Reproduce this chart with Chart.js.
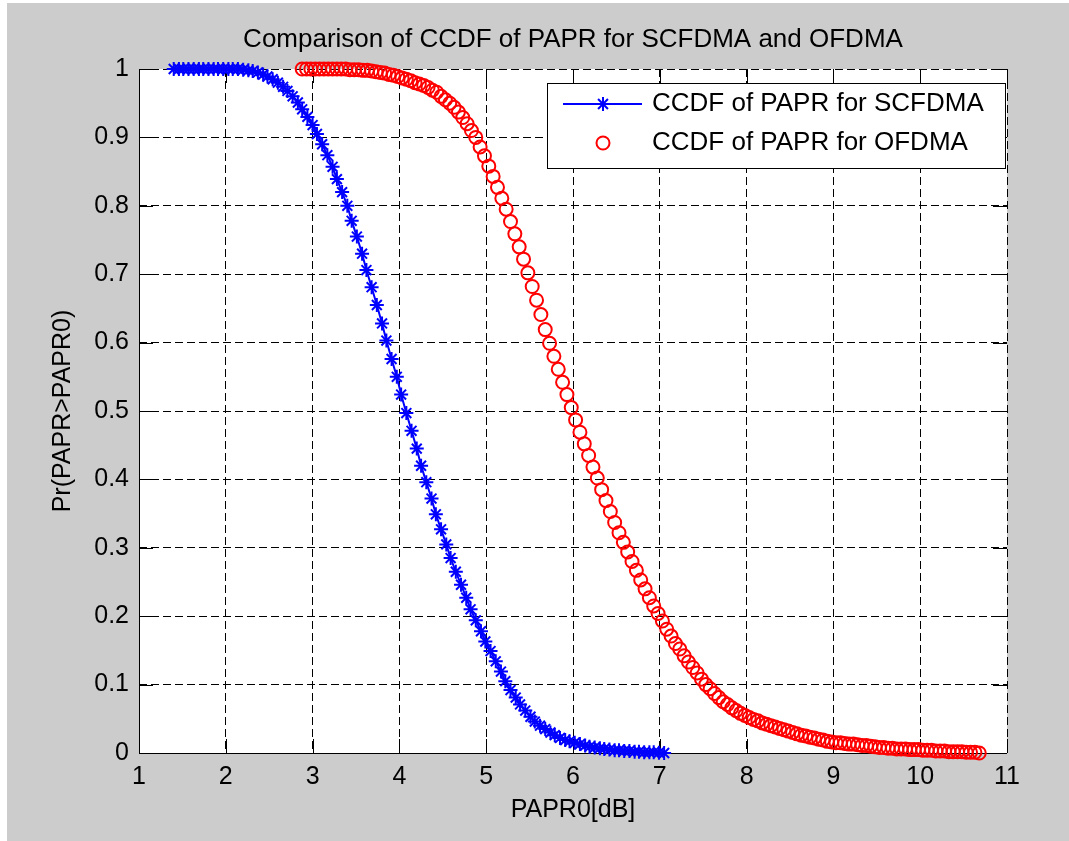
<!DOCTYPE html>
<html>
<head>
<meta charset="utf-8">
<title>CCDF of PAPR</title>
<script src="https://cdn.jsdelivr.net/npm/chart.js@4.4.1/dist/chart.umd.min.js"></script>
<style>
  html, body { margin: 0; padding: 0; background: #cccccc; }
  #wrap { width: 1069px; height: 841px; position: relative; }
</style>
</head>
<body>
<div id="wrap"><canvas id="paprChart"></canvas></div>
<script>
// PAPR0 values (dB) and CCDF
const scfdmaX = [1.40, 1.46, 1.51, 1.57, 1.63, 1.69, 1.74, 1.80, 1.86, 1.91,
    1.97, 2.03, 2.08, 2.14, 2.20, 2.26, 2.31, 2.37, 2.43, 2.48,
    2.54, 2.60, 2.66, 2.71, 2.77, 2.83, 2.88, 2.94, 3.00, 3.05,
    3.11, 3.17, 3.23, 3.28, 3.34, 3.40, 3.45, 3.51, 3.57, 3.62,
    3.68, 3.74, 3.80, 3.85, 3.91, 3.97, 4.02, 4.08, 4.14, 4.20,
    4.25, 4.31, 4.37, 4.42, 4.48, 4.54, 4.59, 4.65, 4.71, 4.77,
    4.82, 4.88, 4.94, 4.99, 5.05, 5.11, 5.17, 5.22, 5.28, 5.34,
    5.39, 5.45, 5.51, 5.56, 5.62, 5.68, 5.74, 5.79, 5.85, 5.91,
    5.96, 6.02, 6.08, 6.14, 6.19, 6.25, 6.31, 6.36, 6.42, 6.48,
    6.53, 6.59, 6.65, 6.71, 6.76, 6.82, 6.88, 6.93, 6.99, 7.05];
const scfdmaCcdf = [1, 1, 1, 1, 1, 1, 1, 1, 1, 1,
    1, 1, 1, 1, 0.999, 0.998, 0.997, 0.995, 0.992, 0.989,
    0.985, 0.980, 0.974, 0.968, 0.960, 0.951, 0.941, 0.930, 0.918, 0.905,
    0.890, 0.874, 0.857, 0.839, 0.820, 0.800, 0.778, 0.755, 0.730, 0.706,
    0.681, 0.655, 0.628, 0.603, 0.576, 0.550, 0.524, 0.497, 0.471, 0.445,
    0.420, 0.396, 0.372, 0.349, 0.327, 0.305, 0.285, 0.265, 0.246, 0.227,
    0.210, 0.194, 0.178, 0.163, 0.149, 0.134, 0.119, 0.105, 0.092, 0.081,
    0.071, 0.062, 0.053, 0.046, 0.040, 0.035, 0.030, 0.026, 0.022, 0.019,
    0.017, 0.015, 0.013, 0.011, 0.009, 0.008, 0.007, 0.006, 0.005, 0.004,
    0.004, 0.003, 0.003, 0.002, 0.002, 0.001, 0.001, 0.001, 0.0005, 0];

const ofdmaX = [2.88, 2.93, 2.98, 3.03, 3.08, 3.13, 3.18, 3.23, 3.28, 3.33,
    3.38, 3.43, 3.48, 3.53, 3.58, 3.63, 3.68, 3.73, 3.78, 3.83,
    3.88, 3.93, 3.98, 4.03, 4.08, 4.13, 4.18, 4.23, 4.28, 4.33,
    4.38, 4.43, 4.48, 4.53, 4.58, 4.63, 4.68, 4.73, 4.78, 4.83,
    4.88, 4.93, 4.98, 5.03, 5.08, 5.13, 5.18, 5.23, 5.28, 5.33,
    5.38, 5.43, 5.48, 5.53, 5.58, 5.63, 5.68, 5.73, 5.78, 5.83,
    5.88, 5.93, 5.98, 6.03, 6.08, 6.13, 6.18, 6.23, 6.28, 6.33,
    6.38, 6.43, 6.48, 6.53, 6.58, 6.63, 6.68, 6.73, 6.78, 6.83,
    6.88, 6.93, 6.98, 7.03, 7.08, 7.13, 7.18, 7.23, 7.28, 7.33,
    7.38, 7.43, 7.48, 7.53, 7.58, 7.63, 7.68, 7.73, 7.78, 7.83,
    7.88, 7.93, 7.98, 8.03, 8.08, 8.13, 8.18, 8.23, 8.28, 8.33,
    8.38, 8.43, 8.48, 8.53, 8.58, 8.63, 8.68, 8.73, 8.78, 8.83,
    8.88, 8.93, 8.98, 9.03, 9.08, 9.13, 9.18, 9.23, 9.28, 9.33,
    9.38, 9.43, 9.48, 9.53, 9.58, 9.63, 9.68, 9.73, 9.78, 9.83,
    9.88, 9.93, 9.98, 10.03, 10.08, 10.13, 10.18, 10.23, 10.28, 10.33,
    10.38, 10.43, 10.48, 10.53, 10.58, 10.63, 10.68];
const ofdmaCcdf = [1, 1, 1, 1, 1, 1, 1, 1, 1, 1,
    1, 0.999, 0.999, 0.999, 0.998, 0.998, 0.997, 0.996, 0.995, 0.994,
    0.992, 0.991, 0.989, 0.987, 0.985, 0.983, 0.980, 0.978, 0.976, 0.973,
    0.969, 0.966, 0.960, 0.955, 0.950, 0.944, 0.937, 0.929, 0.920, 0.910,
    0.900, 0.886, 0.873, 0.858, 0.843, 0.827, 0.811, 0.795, 0.777, 0.759,
    0.740, 0.722, 0.702, 0.682, 0.662, 0.641, 0.619, 0.599, 0.580, 0.561,
    0.542, 0.524, 0.505, 0.487, 0.469, 0.452, 0.435, 0.418, 0.402, 0.385,
    0.369, 0.353, 0.337, 0.322, 0.308, 0.294, 0.280, 0.267, 0.253, 0.240,
    0.227, 0.215, 0.204, 0.193, 0.181, 0.171, 0.160, 0.152, 0.142, 0.133,
    0.125, 0.117, 0.108, 0.100, 0.094, 0.087, 0.081, 0.075, 0.071, 0.066,
    0.062, 0.058, 0.055, 0.052, 0.049, 0.047, 0.044, 0.042, 0.040, 0.038,
    0.036, 0.034, 0.032, 0.030, 0.028, 0.026, 0.025, 0.023, 0.022, 0.020,
    0.019, 0.017, 0.016, 0.015, 0.015, 0.014, 0.013, 0.013, 0.012, 0.011,
    0.011, 0.010, 0.009, 0.008, 0.008, 0.007, 0.007, 0.006, 0.006, 0.006,
    0.005, 0.005, 0.005, 0.004, 0.004, 0.004, 0.003, 0.003, 0.003, 0.002,
    0.002, 0.002, 0.002, 0.001, 0.001, 0.001, 0];

const xTickLabels = ['1', '2', '3', '4', '5', '6', '7', '8', '9', '10', '11'];
const yTickLabels = ['0', '0.1', '0.2', '0.3', '0.4', '0.5', '0.6', '0.7', '0.8', '0.9', '1'];

const seriesNames = ['CCDF of PAPR for SCFDMA', 'CCDF of PAPR for OFDMA'];
const FONT = "'Liberation Sans', Arial, Helvetica, sans-serif";
const TICK_LEN = 14;

function toPoints(xs, ys) {
    return xs.map((x, i) => ({ x: x, y: ys[i] }));
}

function drawStar(ctx, x, y, r) {
    const d = r * Math.SQRT1_2;
    ctx.beginPath();
    ctx.moveTo(x - r, y); ctx.lineTo(x + r, y);
    ctx.moveTo(x, y - r); ctx.lineTo(x, y + r);
    ctx.moveTo(x - d, y - d); ctx.lineTo(x + d, y + d);
    ctx.moveTo(x - d, y + d); ctx.lineTo(x + d, y - d);
    ctx.stroke();
}

// grey figure, white axes background
const figureBg = {
    id: 'figureBg',
    beforeDraw(chart) {
        const { ctx, chartArea: a, width, height } = chart;
        ctx.save();
        ctx.fillStyle = '#cccccc';
        ctx.fillRect(0, 0, width, height);
        ctx.fillStyle = '#ffffff';
        ctx.fillRect(0, 0, 7, height);
        ctx.fillRect(0, 0, width, 3);
        ctx.fillRect(a.left, a.top, a.right - a.left, a.bottom - a.top);
        ctx.restore();
    }
};

// matlab style axes: solid left/bottom lines, ticks pointing inwards on all sides
const matlabAxes = {
    id: 'matlabAxes',
    beforeDatasetsDraw(chart) {
        const { ctx, chartArea: a, scales } = chart;
        ctx.save();
        ctx.strokeStyle = '#000';
        ctx.lineWidth = 1;
        ctx.beginPath();
        ctx.moveTo(a.left + 0.5, a.top);
        ctx.lineTo(a.left + 0.5, a.bottom + 0.5);
        ctx.lineTo(a.right, a.bottom + 0.5);
        scales.x.ticks.forEach(t => {
            const px = Math.round(scales.x.getPixelForValue(t.value)) + 0.5;
            ctx.moveTo(px, a.bottom); ctx.lineTo(px, a.bottom - TICK_LEN);
            ctx.moveTo(px, a.top); ctx.lineTo(px, a.top + TICK_LEN);
        });
        scales.y.ticks.forEach(t => {
            const py = Math.round(scales.y.getPixelForValue(t.value)) + 0.5;
            ctx.moveTo(a.left, py); ctx.lineTo(a.left + TICK_LEN, py);
            ctx.moveTo(a.right, py); ctx.lineTo(a.right - TICK_LEN, py);
        });
        ctx.stroke();
        ctx.restore();
    }
};

// title above the axes plus boxed legend inside the top right corner
const titleAndLegend = {
    id: 'titleAndLegend',
    afterDraw(chart) {
        const { ctx, chartArea: a } = chart;
        ctx.save();
        ctx.fillStyle = '#000';
        ctx.font = '26px ' + FONT;
        ctx.textAlign = 'center';
        ctx.textBaseline = 'middle';
        ctx.fillText('Comparison of CCDF of PAPR for SCFDMA and OFDMA', (a.left + a.right) / 2, 40);

        const bx = a.left + 408, by = a.top + 14, bw = 458, bh = 85;
        ctx.fillStyle = '#fff';
        ctx.fillRect(bx, by, bw, bh);
        ctx.strokeStyle = '#000';
        ctx.lineWidth = 1;
        ctx.strokeRect(bx + 0.5, by + 0.5, bw, bh);

        const row1 = by + 21, row2 = by + 60, mx = bx + 56;
        ctx.strokeStyle = '#0000ff';
        ctx.lineWidth = 2;
        ctx.beginPath();
        ctx.moveTo(bx + 16, row1); ctx.lineTo(bx + 95, row1);
        ctx.stroke();
        drawStar(ctx, mx, row1, 7);

        ctx.strokeStyle = '#ff0000';
        ctx.beginPath();
        ctx.arc(mx, row2, 6.5, 0, Math.PI * 2);
        ctx.stroke();

        ctx.fillStyle = '#000';
        ctx.textAlign = 'left';
        ctx.font = '26px ' + FONT;
        ctx.fillText(seriesNames[0], bx + 105, row1);
        ctx.fillText(seriesNames[1], bx + 105, row2);
        ctx.restore();
    }
};

const ctx = document.getElementById('paprChart').getContext('2d');

const paprChart = new Chart(ctx, {
    type: 'scatter',
    data: {
        datasets: [{
            label: seriesNames[0],
            data: toPoints(scfdmaX, scfdmaCcdf),
            showLine: true,
            borderColor: '#0000ff',
            borderWidth: 2,
            pointStyle: 'star',
            pointRadius: 7,
            pointBorderWidth: 2,
            pointBorderColor: '#0000ff',
            pointBackgroundColor: '#0000ff',
            clip: false
        },
        {
            label: seriesNames[1],
            data: toPoints(ofdmaX, ofdmaCcdf),
            showLine: false,
            pointStyle: 'circle',
            pointRadius: 6.5,
            pointBorderWidth: 2,
            pointBorderColor: '#ff0000',
            pointBackgroundColor: 'rgba(0,0,0,0)',
            clip: false
        }]
    },
    options: {
        responsive: true,
        maintainAspectRatio: false,
        animation: false,
        layout: { padding: { top: 69, right: 62, bottom: 0, left: 0 } },
        plugins: {
            legend: { display: false },
            tooltip: { enabled: false }
        },
        scales: {
            x: {
                type: 'linear',
                min: 1,
                max: 11,
                afterFit: scale => { scale.height = 88; },
                ticks: {
                    stepSize: 1,
                    padding: 9,
                    color: '#000',
                    font: { family: FONT, size: 25 },
                    callback: (v, i) => xTickLabels[i]
                },
                grid: { color: '#000', lineWidth: 1, drawTicks: false },
                border: { display: false, dash: [8, 4] },
                title: {
                    display: true,
                    text: 'PAPR0[dB]',
                    color: '#000',
                    font: { family: FONT, size: 25 },
                    padding: { top: 0, bottom: 16 }
                }
            },
            y: {
                min: 0,
                max: 1,
                afterFit: scale => { scale.width = 139; },
                ticks: {
                    stepSize: 0.1,
                    padding: 10,
                    color: '#000',
                    font: { family: FONT, size: 25 },
                    callback: (v, i) => yTickLabels[i]
                },
                grid: { color: '#000', lineWidth: 1, drawTicks: false },
                border: { display: false, dash: [8, 4] },
                title: {
                    display: true,
                    text: 'Pr(PAPR>PAPR0)',
                    color: '#000',
                    font: { family: FONT, size: 25 },
                    padding: { top: 48, bottom: 0 }
                }
            }
        }
    },
    plugins: [figureBg, matlabAxes, titleAndLegend]
});
</script>
</body>
</html>
